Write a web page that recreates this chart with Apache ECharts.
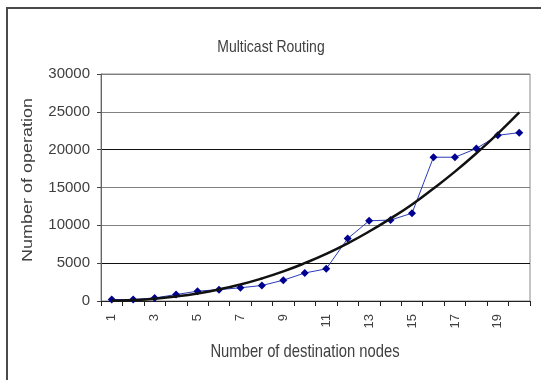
<!DOCTYPE html>
<html>
<head>
<meta charset="utf-8">
<script src="https://cdn.jsdelivr.net/npm/echarts@6/dist/echarts.min.js"></script>
<style>
  html, body { margin: 0; padding: 0; background: #fff; }
  #chart { width: 541px; height: 380px; }
</style>
</head>
<body>
<div id="chart"></div>
<script>
// Number of destination nodes (x categories)
const nodes = ['1','2','3','4','5','6','7','8','9','10','11','12','13','14','15','16','17','18','19','20'];
// Measured number of operations per node count
const operations = [200, 200, 400, 850, 1300, 1500, 1750, 2050, 2750, 3700, 4250, 8250, 10600, 10700, 11600, 19000, 19000, 20150, 21900, 22250];
// Fitted trend curve through the measurements
const trend = [24, 120, 300, 600, 1000, 1530, 2180, 2980, 3910, 5000, 6230, 7620, 9180, 10900, 12760, 14870, 17100, 19530, 22130, 24930];
// Y axis range and step
const yMin = 0, yMax = 30000, yStep = 5000;

const textColor = '#404040';
const font = 'Liberation Sans, Arial, sans-serif';

const chart = echarts.init(document.getElementById('chart'), null, { renderer: 'canvas' });

chart.setOption({
  animation: false,
  backgroundColor: '#ffffff',
  grid: {
    left: 101, right: 11, top: 74, bottom: 79,
    show: true, borderColor: '#8a8a8a', borderWidth: 1,
    containLabel: false
  },
  graphic: [
    {
      type: 'rect', z: -1, silent: true,
      shape: { x: 7, y: 8, width: 600, height: 420 },
      style: { fill: 'none', stroke: '#4a4a4a', lineWidth: 2 }
    },
    {
      type: 'text', x: 271, y: 47, silent: true,
      scaleY: 1.2,
      style: {
        text: 'Multicast Routing', fill: textColor,
        font: '14px ' + font, textAlign: 'center', textVerticalAlign: 'middle'
      }
    },
    {
      type: 'text', x: 28, y: 180, silent: true,
      rotation: Math.PI / 2, scaleX: 1.2,
      style: {
        text: 'Number of operation', fill: textColor,
        font: '15px ' + font, textAlign: 'center', textVerticalAlign: 'middle'
      }
    },
    {
      type: 'text', x: 305, y: 352, silent: true,
      scaleY: 1.2,
      style: {
        text: 'Number of destination nodes', fill: textColor,
        font: '14.8px ' + font, textAlign: 'center', textVerticalAlign: 'middle'
      }
    }
  ],
  xAxis: {
    type: 'category',
    data: nodes,
    boundaryGap: true,
    axisLine: { show: true, lineStyle: { color: '#222', width: 1 } },
    axisTick: { show: true, interval: 0, length: 5, lineStyle: { color: '#222' } },
    axisLabel: {
      interval: 1, rotate: 90, margin: 13,
      color: textColor, fontSize: 13, fontFamily: font
    },
    splitLine: { show: false }
  },
  yAxis: {
    type: 'value',
    min: yMin, max: yMax, interval: yStep,
    axisLine: { show: true, lineStyle: { color: '#666', width: 1 } },
    axisTick: { show: true, length: 4, lineStyle: { color: '#444' } },
    axisLabel: {
      margin: 11, color: textColor, fontSize: 15, fontFamily: font,
      formatter: function (v) { return String(v); }
    },
    splitLine: {
      show: true,
      lineStyle: { color: ['#111', '#111', '#808080', '#808080', '#111', '#808080', '#808080'], width: 1 }
    }
  },
  series: [
    {
      name: 'Operations',
      type: 'line',
      data: operations,
      symbol: 'diamond',
      symbolSize: 8,
      lineStyle: { color: '#2a3ab8', width: 1 },
      itemStyle: { color: '#000090' },
      z: 2
    },
    {
      name: 'Trend',
      type: 'line',
      data: trend,
      symbol: 'none',
      smooth: true,
      lineStyle: { color: '#111', width: 2.5 },
      z: 3
    }
  ]
});
</script>
</body>
</html>
